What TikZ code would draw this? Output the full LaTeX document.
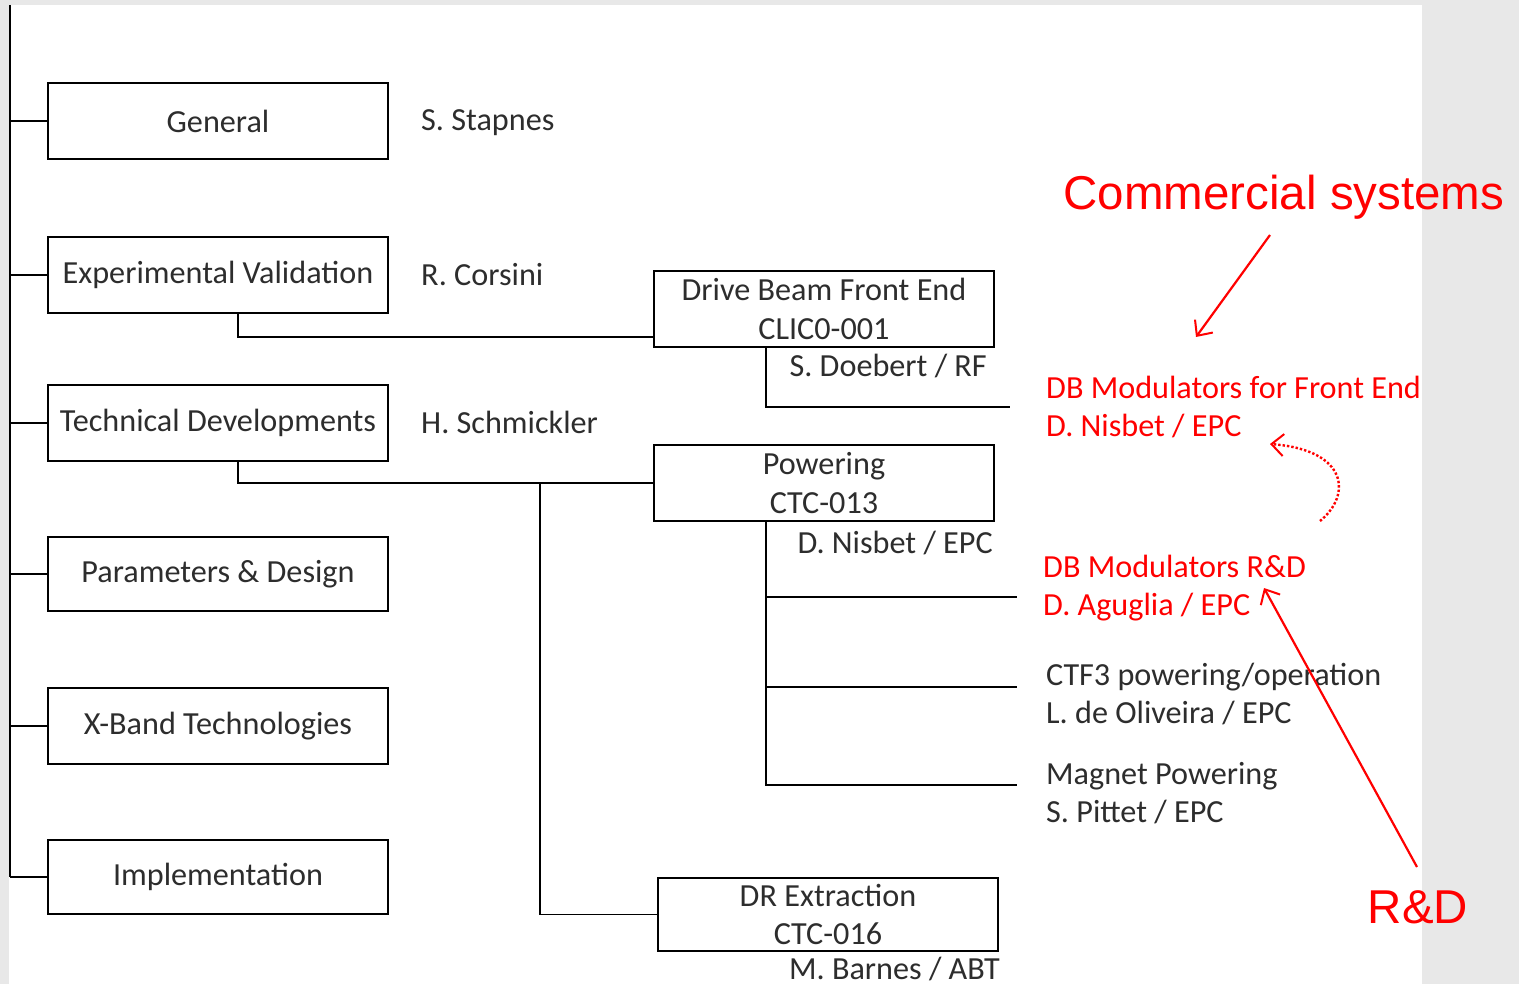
\documentclass[tikz,border=0pt]{standalone}
\usepackage{fontspec}
\setmainfont{Carlito}
\newfontfamily\arialfont{Liberation Sans}
\usetikzlibrary{arrows.meta}
\definecolor{txtgray}{RGB}{45,45,45}
\definecolor{bggray}{RGB}{232,232,232}
\begin{document}
\begin{tikzpicture}[x=1pt,y=-1pt,
  every node/.style={inner sep=0pt, font=\fontsize{32.2}{38.5}\selectfont, text=txtgray},
  box/.style={draw=black, line width=1.7pt, minimum width=340pt, minimum height=76pt, align=center},
  lbl/.style={anchor=west, align=left},
  lblr/.style={anchor=east, align=right},
  redlbl/.style={anchor=west, align=left, text=red},
  big/.style={font=\arialfont\fontsize{47.5}{50}\selectfont, text=red},
  conn/.style={draw=black, line width=1.7pt},
  redtip/.style={-{Straight Barb[length=12pt,width=22pt,line width=2pt]}},
  redarrow/.style={draw=red, line width=2.2pt, redtip},
]
\useasboundingbox (0,0) rectangle (1519,984);
\fill[bggray] (0,0) rectangle (1519,984);
\fill[white] (9,5) rectangle (1422,984);

% left column boxes
\node[box] (gen) at (218,121) {General};
\node[box] (exp) at (218,275) {Experimental Validation};
\node[box] (tech) at (218,423) {Technical Developments};
\node[box, minimum height=74pt] (par) at (218,574) {Parameters \& Design};
\node[box] (xb) at (218,726) {X-Band Technologies};
\node[box, minimum height=74pt] (impl) at (218,877) {Implementation};

\node[lbl] (n1) at (421,123) {S. Stapnes};
\node[lbl] (n2) at (421,275) {R. Corsini};
\node[lbl] (n3) at (421,422) {H. Schmickler};

% trunk
\coordinate (top) at (10,5);
\coordinate (bot) at (10,877);
\draw[conn] (top) -- (bot);
\foreach \b in {gen,exp,tech,par,xb,impl}{
  \draw[conn] (\b.west) -- (\b.west -| top);
}

% middle boxes
\node[box] (dbfe) at (824,309) {Drive Beam Front End\\CLIC0-001};
\node[box] (pow) at (824,483) {Powering\\CTC-013};
\node[box, minimum height=73pt] (drx) at (828,914.5) {DR Extraction\\CTC-016};

\node[lblr] (m1) at (987,366) {S. Doebert / RF};
\node[lblr] (m2) at (993,543) {D. Nisbet / EPC};
\node[lblr] (m3) at (1000,969) {M. Barnes / ABT};

\draw[conn] ([xshift=20pt]exp.south) |- ([yshift=-28pt]dbfe.west);
\draw[conn] ([xshift=20pt]tech.south) |- (pow.west);
\coordinate (j1) at (540,483);
\draw[conn] (j1) |- (drx.west);

\coordinate (e1) at (1010,407);
\coordinate (e2) at (1017,597);
\coordinate (e3) at (1017,687);
\coordinate (e4) at (1017,785);
\draw[conn] ([xshift=-58pt]dbfe.south) |- (e1);
\draw[conn] ([xshift=-58pt]pow.south) |- (e4);
\draw[conn] (e2 -| e4) ++(-251,0) -- (e2);
\draw[conn] (e3 -| e4) ++(-251,0) -- (e3);

% right labels
\node[redlbl] (r1) at (1046,407) {DB Modulators for Front End\\D. Nisbet / EPC};
\node[redlbl] (r2) at (1043,588) {DB Modulators R\&D\\D. Aguglia / EPC};
\node[lbl] (r3) at (1046,694) {CTF3 powering/operation\\L. de Oliveira / EPC};
\node[lbl] (r4) at (1046,793) {Magnet Powering\\S. Pittet / EPC};

% annotations
\node[big] (cs) at (1284,197) {Commercial systems};
\node[big] (rd) at (1418,907) {R\&D};
\coordinate (cs0) at (1270,235);
\coordinate (cs1) at (1196,337);
\draw[redarrow] (cs0) -- (cs1);
\coordinate (rd0) at (1417,867);
\coordinate (rd1) at (1264,588);
\draw[redarrow] (rd0) -- (rd1);
\coordinate (d0) at (1320,521);
\coordinate (d1) at (1270,444);
\draw[red, line width=2.4pt, dotted, redtip]
  (d0) .. controls (1352,495) and (1348,450) .. (d1);
\end{tikzpicture}
\end{document}
